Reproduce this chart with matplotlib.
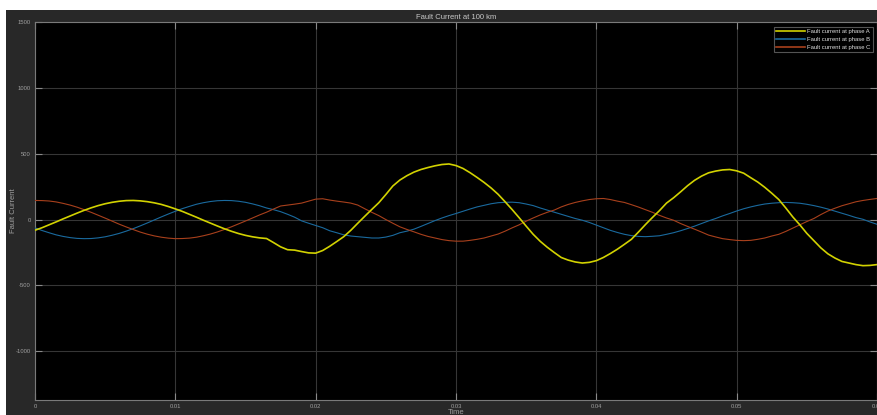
import numpy as np
import matplotlib
matplotlib.use("Agg")
import matplotlib.pyplot as plt
from matplotlib.patches import Rectangle

plt.rcParams['font.family'] = ['Liberation Sans', 'DejaVu Sans']

# time samples (s), every 0.0005 s from 0 to 0.06
time = np.round(np.arange(121) * 0.0005, 4)

phase_a = [
    -81, -62, -40, -18, 5, 27, 49, 70, 89, 106,
    120, 131, 139, 144, 145, 142, 136, 127, 115, 99,
    81, 62, 40, 18, -5, -27, -49, -70, -89, -106,
    -120, -131, -139, -144, -175, -207, -229, -232, -243, -253,
    -255, -235, -203, -167, -130, -82, -28, 25, 77, 128,
    190, 255, 300, 333, 360, 380, 395, 408, 418, 422,
    410, 388, 356, 320, 282, 240, 192, 135, 76, 14,
    -50, -112, -165, -210, -250, -288, -308, -322, -330, -325,
    -312, -288, -258, -225, -188, -150, -95, -38, 16, 68,
    125, 165, 210, 257, 298, 330, 355, 368, 377, 380,
    370, 352, 318, 285, 245, 200, 152, 88, 20, -40,
    -105, -160, -215, -260, -292, -318, -330, -342, -350, -348,
    -342,
]

phase_b = [
    -63, -83, -100, -116, -128, -137, -143, -145, -144, -139,
    -131, -119, -105, -88, -69, -48, -26, -3, 20, 42,
    63, 83, 100, 116, 128, 137, 143, 145, 144, 139,
    131, 119, 105, 88, 75, 60, 40, 18, -10, -28,
    -45, -62, -85, -100, -116, -125, -130, -135, -140, -140,
    -133, -120, -100, -88, -73, -52, -30, -8, 12, 30,
    46, 63, 80, 96, 108, 120, 128, 131, 132, 128,
    118, 106, 88, 72, 56, 40, 24, 8, -5, -22,
    -42, -62, -82, -98, -112, -122, -128, -130, -127, -123,
    -112, -100, -85, -68, -50, -30, -10, 8, 28, 46,
    65, 82, 96, 108, 118, 124, 128, 130, 128, 124,
    116, 106, 94, 80, 64, 48, 32, 15, 2, -18,
    -36,
]

phase_c = [
    145, 144, 141, 134, 123, 110, 94, 75, 55, 33,
    11, -12, -35, -56, -76, -95, -111, -124, -134, -141,
    -145, -144, -141, -134, -123, -110, -94, -75, -55, -33,
    -11, 12, 35, 56, 80, 103, 110, 117, 125, 140,
    155, 158, 148, 140, 133, 125, 110, 82, 55, 30,
    0, -28, -55, -75, -93, -112, -128, -140, -152, -160,
    -164, -164, -158, -150, -140, -125, -110, -88, -63, -40,
    -12, 12, 35, 55, 72, 96, 115, 130, 142, 152,
    158, 160, 152, 140, 130, 113, 95, 75, 55, 32,
    12, -5, -30, -52, -73, -95, -118, -132, -145, -152,
    -158, -160, -158, -150, -140, -125, -112, -90, -65, -40,
    -15, 8, 38, 65, 86, 105, 120, 135, 145, 153,
    160,
]

labels = ["Fault current at phase A", "Fault current at phase B", "Fault current at phase C"]
xticks = [0, 0.01, 0.02, 0.03, 0.04, 0.05, 0.06]
xticklabels = ["0", "0.01", "0.02", "0.03", "0.04", "0.05", "0.06"]
yticks = [-1000, -500, 0, 500, 1000, 1500]
yticklabels = ["-1000", "-500", "0", "500", "1000", "1500"]

W, H = 877, 415
fig = plt.figure(figsize=(W / 100, H / 100), dpi=100)
fig.patch.set_facecolor("white")
bg = Rectangle((6 / W, 0), 1 - 6 / W, (H - 10) / H,
               transform=fig.transFigure, facecolor="#282828",
               edgecolor="none", zorder=-10)
fig.patches.append(bg)

ax = fig.add_axes([35 / W, (H - 400) / H, 842 / W, 378 / H])
ax.set_zorder(1)
ax.set_facecolor("black")

ax.plot(time, phase_a, color="#d2d200", lw=1.2, label=labels[0], zorder=4)
ax.plot(time, phase_b, color="#1a6a9e", lw=0.8, label=labels[1], zorder=3)
ax.plot(time, phase_c, color="#a8401c", lw=0.8, label=labels[2], zorder=3)

ax.set_xlim(0, 0.06)
ax.set_ylim(-1370, 1500)
ax.set_xticks(xticks)
ax.set_xticklabels(xticklabels)
ax.set_yticks(yticks)
ax.set_yticklabels(yticklabels)

ax.grid(True, color="#363636", lw=0.8)
ax.set_axisbelow(True)
for s in ax.spines.values():
    s.set_color("#7a7a7a")
    s.set_linewidth(0.8)
ax.tick_params(axis="both", direction="in", length=5, width=0.8, color="#8a8a8a",
               labelcolor="#a0a0a0", labelsize=4.2, top=True, right=True, pad=3)

ax.set_title("Fault Current at 100 km", color="#c8c8c8", fontsize=5.5, pad=2.5)
ax.set_ylabel("Fault Current", color="#a0a0a0", fontsize=5.5, labelpad=-1)
ax.set_xlabel("Time", color="#a0a0a0", fontsize=5.5, labelpad=0)

leg = ax.legend(loc="upper right", bbox_to_anchor=(0.995, 0.987), borderaxespad=0,
                fontsize=4.2, frameon=True, fancybox=False, facecolor="black",
                edgecolor="#6a6a6a", handlelength=5, handletextpad=0.3,
                labelspacing=0.45, borderpad=0.4)
leg.get_frame().set_linewidth(0.8)
for line in leg.get_lines():
    line.set_linewidth(1.2)
for t in leg.get_texts():
    t.set_color("#e0e0e0")

fig.savefig("out.png", dpi=100, facecolor=fig.get_facecolor())
